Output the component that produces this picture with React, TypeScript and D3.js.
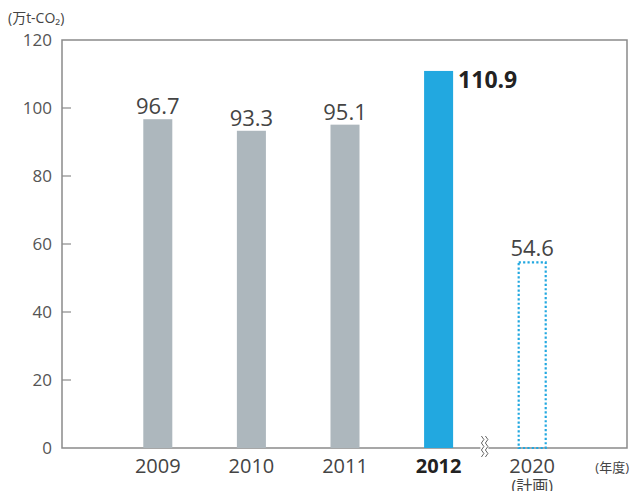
import React from 'react';
import { scaleBand, scaleLinear, range as d3range } from 'd3';

const years = ['2009', '2010', '2011', '2012', '2020'];
const values = [96.7, 93.3, 95.1, 110.9, 54.6];
const yTicks = [0, 20, 40, 60, 80, 100, 120];

const W = 630;
const H = 491;
const margin = { top: 40, right: 3, bottom: 43, left: 62 };
const FONT = '"Open Sans", "Noto Sans CJK JP", sans-serif';

const App: React.FC = () => {
  const innerW = W - margin.left - margin.right;
  const innerH = H - margin.top - margin.bottom;

  const x = scaleBand<string>()
    .domain(years)
    .range([49, 517])
    .paddingInner(0.69)
    .paddingOuter(0.345);

  const y = scaleLinear().domain([0, 120]).range([innerH, 0]);

  const bw = x.bandwidth();
  const breakX = (x('2012')! + bw + x('2020')!) / 2;

  // small wavy break mark on the x axis
  const wave = (dx: number) => {
    const pts = d3range(0, 7).map((i) => `${dx + (i % 2 === 0 ? 0 : 2.5)},${innerH - 12 + i * 3.5}`);
    return 'M' + pts.join(' L');
  };

  return (
    <svg width={W} height={H} style={{ position: 'absolute', left: 0, top: 0 }} fontFamily={FONT}>
      <rect width={W} height={H} fill="#fff" />
      <text x={8} y={23} fontSize={14} fill="#444">(万t-CO₂)</text>
      <g transform={`translate(${margin.left},${margin.top})`}>
        <rect x={0} y={0} width={innerW} height={innerH} fill="none" stroke="#8a8a8a" strokeWidth={1.5} />
        {yTicks.map((t) => (
          <g key={t} transform={`translate(0,${y(t)})`}>
            {t > 0 && t < 120 && <line x1={0} x2={9} stroke="#8a8a8a" strokeWidth={1.2} />}
            <text x={-10} dy="0.35em" textAnchor="end" fontSize={17} fill="#555">{t}</text>
          </g>
        ))}
        {years.map((yr, i) => {
          const v = values[i];
          const bx = x(yr)!;
          const cx = bx + bw / 2;
          if (yr === '2020') {
            return (
              <g key={yr}>
                <rect x={bx + 1} y={y(v)} width={bw - 2} height={innerH - y(v)} fill="none"
                  stroke="#22a8e0" strokeWidth={2.2} strokeDasharray="2.2 2.2" />
                <text x={cx} y={y(v) - 6} textAnchor="middle" fontSize={22} fill="#444">{v.toFixed(1)}</text>
              </g>
            );
          }
          if (yr === '2012') {
            return (
              <g key={yr}>
                <rect x={bx} y={y(v)} width={bw} height={innerH - y(v)} fill="#22a8e0" />
                <text x={bx + bw + 5} y={y(v) + 17} fontSize={23} fontWeight={700} fill="#222">{v.toFixed(1)}</text>
              </g>
            );
          }
          return (
            <g key={yr}>
              <rect x={bx} y={y(v)} width={bw} height={innerH - y(v)} fill="#adb7bd" />
              <text x={cx} y={y(v) - 5} textAnchor="middle" fontSize={22} fill="#444">{v.toFixed(1)}</text>
            </g>
          );
        })}
        <g transform={`translate(${breakX - 4},0)`}>
          <rect x={-1} y={innerH - 13} width={8} height={14} fill="#fff" />
          <path d={wave(0)} fill="none" stroke="#666" strokeWidth={1} />
          <path d={wave(4)} fill="none" stroke="#666" strokeWidth={1} />
        </g>
        {years.map((yr) => (
          <text key={yr} x={x(yr)! + bw / 2} y={innerH + 25} textAnchor="middle" fontSize={20}
            fontWeight={yr === '2012' ? 700 : 400} fill={yr === '2012' ? '#222' : '#444'}>{yr}</text>
        ))}
        <text x={x('2020')! + bw / 2} y={innerH + 44} textAnchor="middle" fontSize={16} fill="#444">(計画)</text>
        <text x={innerW + 2} y={innerH + 24} textAnchor="end" fontSize={13} fill="#444">(年度)</text>
      </g>
    </svg>
  );
};

export default App;
